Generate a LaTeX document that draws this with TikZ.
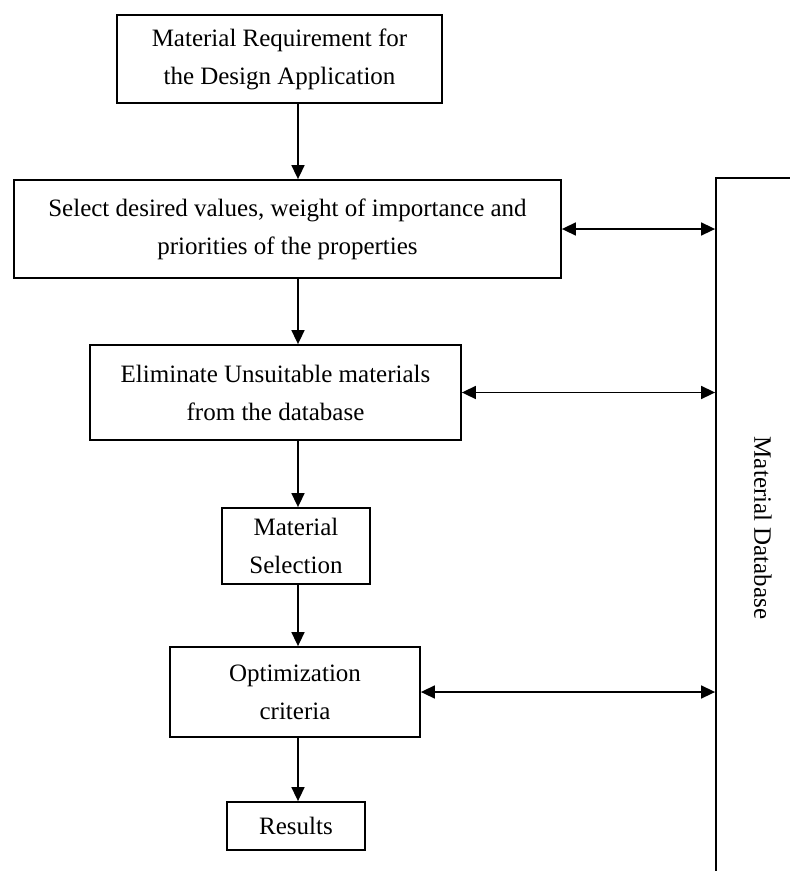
\documentclass[tikz,border=0pt]{standalone}
\usepackage{fontspec}
\setmainfont{Liberation Serif}
\usetikzlibrary{arrows.meta}
\begin{document}
\begin{tikzpicture}[x=1pt,y=-1pt,
  boxstyle/.style={draw=black, line width=1.8pt, inner sep=0pt, align=center,
    font=\fontsize{25}{38}\selectfont},
  flowarrow/.style={line width=1.6pt, -{Triangle[length=14pt,width=13pt]}},
  duoarrow/.style={line width=1.6pt, {Triangle[length=14pt,width=13pt]}-{Triangle[length=14pt,width=13pt]}}]
\clip (0,0) rectangle (790,871);
\useasboundingbox (0,0) rectangle (790,871);
% boxes
\node[boxstyle, minimum width=325pt, minimum height=88pt] (b1) at (279.5,59)
  {Material Requirement for\\the Design Application};
\node[boxstyle, minimum width=547pt, minimum height=98pt] (b2) at (287.5,229)
  {Select desired values, weight of importance and\\priorities of the properties};
\node[boxstyle, minimum width=371pt, minimum height=95pt] (b3) at (275.5,392.5)
  {Eliminate Unsuitable materials\\from the database};
\node[boxstyle, minimum width=148pt, minimum height=76pt] (b4) at (296,546)
  {Material\\Selection};
\node[boxstyle, minimum width=250pt, minimum height=90pt] (b5) at (295,692)
  {Optimization\\criteria};
\node[boxstyle, minimum width=138pt, minimum height=48pt] (b6) at (296,826)
  {Results};
% material database (extends beyond the picture)
\node[draw=black, line width=1.8pt, minimum width=94pt, minimum height=720pt,
  inner sep=0pt] (db) at (763,538) {};
\node[rotate=-90, font=\fontsize{25}{30}\selectfont] (dbt) at (763,528) {Material Database};
% vertical flow arrows
\draw[flowarrow] (b1.south -| 298,0) -- (b2.north -| 298,0);
\draw[flowarrow] (b2.south -| 298,0) -- (b3.north -| 298,0);
\draw[flowarrow] (b3.south -| 298,0) -- (b4.north -| 298,0);
\draw[flowarrow] (b4.south -| 298,0) -- (b5.north -| 298,0);
\draw[flowarrow] (b5.south -| 298,0) -- (b6.north -| 298,0);
% double arrows to the database
\draw[duoarrow] (b2.east) -- (b2.east -| db.west);
\draw[duoarrow] (b3.east) -- (b3.east -| db.west);
\draw[duoarrow] (b5.east) -- (b5.east -| db.west);
\end{tikzpicture}
\end{document}
